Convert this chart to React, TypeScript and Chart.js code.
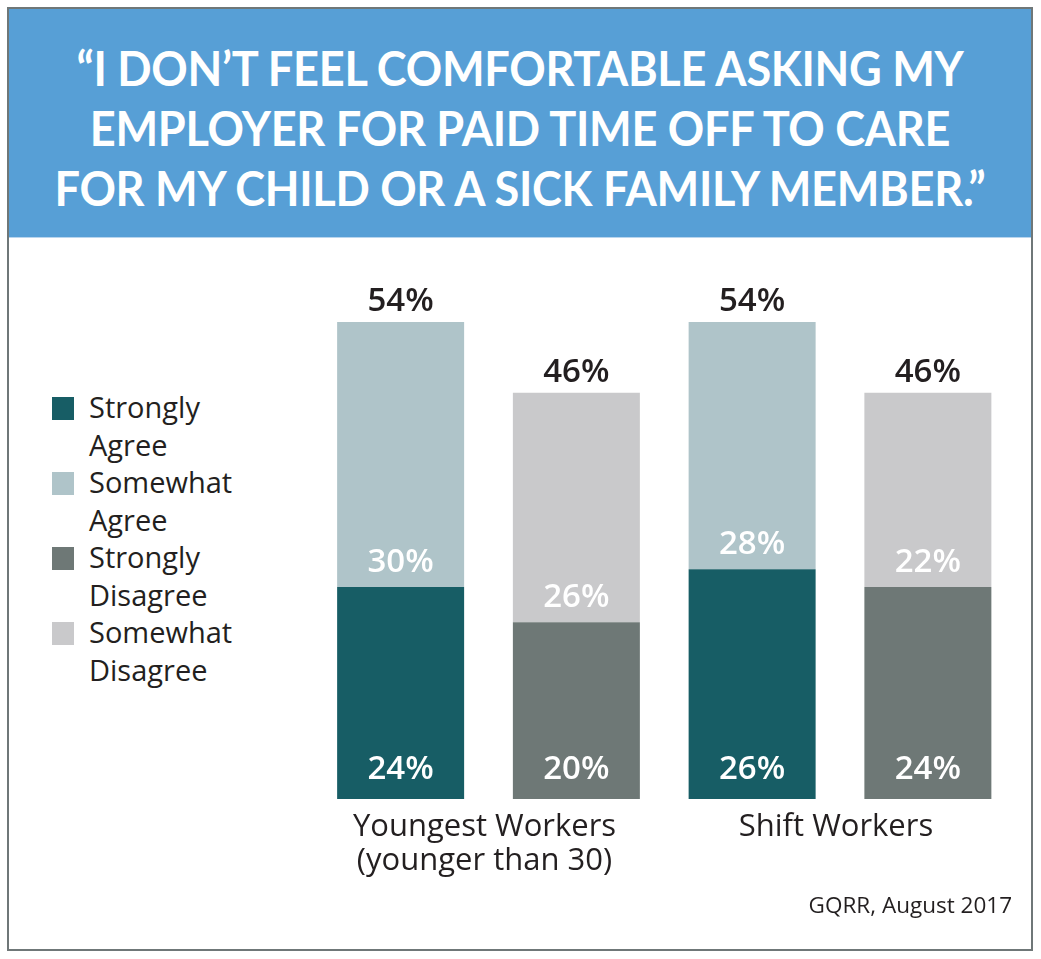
import React, { useEffect, useRef } from "react";
import { Chart, registerables } from "chart.js";
Chart.register(...registerables);

const titleLines = [
  "\u201CI DON\u2019T FEEL COMFORTABLE ASKING MY",
  "EMPLOYER FOR PAID TIME OFF TO CARE",
  "FOR MY CHILD OR A SICK FAMILY MEMBER.\u201D",
];
const categories = [["Youngest Workers", "(younger than 30)"], ["Shift Workers"]];
const seriesNames = ["Strongly Agree", "Somewhat Agree", "Strongly Disagree", "Somewhat Disagree"];
const stronglyAgree = [24, 26];
const somewhatAgree = [30, 28];
const stronglyDisagree = [20, 24];
const somewhatDisagree = [26, 22];
const seriesColors = ["#175d65", "#afc4c9", "#6e7876", "#c9c9cb"];
const sourceNote = "GQRR, August 2017";

const FONT = "'Open Sans', Lato, sans-serif";
const TITLE_FONT = "Lato, 'Open Sans', sans-serif";
const DARK = "#231f20";

const labelPlugin = {
  id: "valueLabels",
  afterDatasetsDraw(chart: any) {
    const ctx = chart.ctx;
    ctx.save();
    ctx.font = `600 33px ${FONT}`;
    ctx.textAlign = "center";
    ctx.textBaseline = "alphabetic";
    chart.data.datasets.forEach((ds: any, di: number) => {
      const meta = chart.getDatasetMeta(di);
      meta.data.forEach((bar: any, i: number) => {
        const v = ds.data[i];
        const p = bar.getProps(["x", "y", "base"], true);
        ctx.fillStyle = "#ffffff";
        if (ds.layer === "bottom") {
          ctx.fillText(v + "%", p.x, p.base - 20);
        } else {
          ctx.fillText(v + "%", p.x, p.base - 15);
          const total = ds.totals[i];
          ctx.fillStyle = DARK;
          ctx.fillText(total + "%", p.x, p.y - 11);
        }
      });
    });
    ctx.restore();
  },
};

function ChartCanvas() {
  const ref = useRef<HTMLCanvasElement | null>(null);
  useEffect(() => {
    if (!ref.current) return;
    const agreeTotals = stronglyAgree.map((v, i) => v + somewhatAgree[i]);
    const disagreeTotals = stronglyDisagree.map((v, i) => v + somewhatDisagree[i]);
    const chart = new Chart(ref.current, {
      type: "bar",
      data: {
        labels: categories as any,
        datasets: [
          { label: seriesNames[0], data: stronglyAgree, backgroundColor: seriesColors[0], stack: "agree", layer: "bottom" } as any,
          { label: seriesNames[1], data: somewhatAgree, backgroundColor: seriesColors[1], stack: "agree", layer: "top", totals: agreeTotals } as any,
          { label: seriesNames[2], data: stronglyDisagree, backgroundColor: seriesColors[2], stack: "disagree", layer: "bottom" } as any,
          { label: seriesNames[3], data: somewhatDisagree, backgroundColor: seriesColors[3], stack: "disagree", layer: "top", totals: disagreeTotals } as any,
        ],
      },
      options: {
        responsive: false,
        animation: false,
        layout: { padding: { left: 312.75, right: 25.25, top: 29, bottom: 51 } },
        datasets: { bar: { categoryPercentage: 1.0, barPercentage: 0.7226, borderWidth: 0 } },
        plugins: { legend: { display: false }, tooltip: { enabled: false }, title: { display: false } },
        scales: {
          x: {
            stacked: true,
            grid: { display: false, drawTicks: false },
            border: { display: false },
            ticks: { color: DARK, font: { family: FONT, size: 31, lineHeight: 34 / 31 }, padding: 11, maxRotation: 0, labelOffset: -4 },
          },
          y: { stacked: true, display: false, min: 0, max: 60 },
        },
      },
      plugins: [labelPlugin],
    });
    return () => chart.destroy();
  }, []);
  return <canvas ref={ref} width={1041} height={700} style={{ position: "absolute", left: 0, top: 240, width: 1041, height: 700 }} />;
}

export default function App() {
  return (
    <div style={{ position: "absolute", left: 0, top: 0, width: 1041, height: 959, background: "#ffffff", fontFamily: FONT, overflow: "hidden" }}>
      <div style={{ position: "absolute", left: 7, top: 7, width: 1026, height: 944, border: "2px solid #6f7778", boxSizing: "border-box" }} />
      <div style={{ position: "absolute", left: 9, top: 9, width: 1022, height: 228, background: "#579fd6", borderBottom: "1px solid #b9d5ee", boxSizing: "content-box" }} />
      <div style={{ position: "absolute", left: 9, top: 38, width: 1022, color: "#ffffff", fontFamily: TITLE_FONT, fontWeight: 700, fontSize: 48, lineHeight: "60px", textAlign: "center", letterSpacing: -0.3 }}>
        {titleLines.map((t, i) => (
          <div key={i} style={{ whiteSpace: "nowrap", transform: "scaleX(0.94)", transformOrigin: "center" }}>{t}</div>
        ))}
      </div>
      <div style={{ position: "absolute", left: 52, top: 388 }}>
        {seriesNames.map((n, i) => (
          <div key={i} style={{ position: "relative", height: 75 }}>
            <div style={{ position: "absolute", left: 0, top: 9, width: 22, height: 23, background: seriesColors[i] }} />
            <div style={{ position: "absolute", left: 37, top: 0, width: 160, fontSize: 29, lineHeight: "37.5px", color: DARK }}>{n}</div>
          </div>
        ))}
      </div>
      <ChartCanvas />
      <div style={{ position: "absolute", right: 1041 - 1012, top: 890, fontSize: 22.5, lineHeight: "30px", color: DARK, whiteSpace: "nowrap" }}>{sourceNote}</div>
    </div>
  );
}
